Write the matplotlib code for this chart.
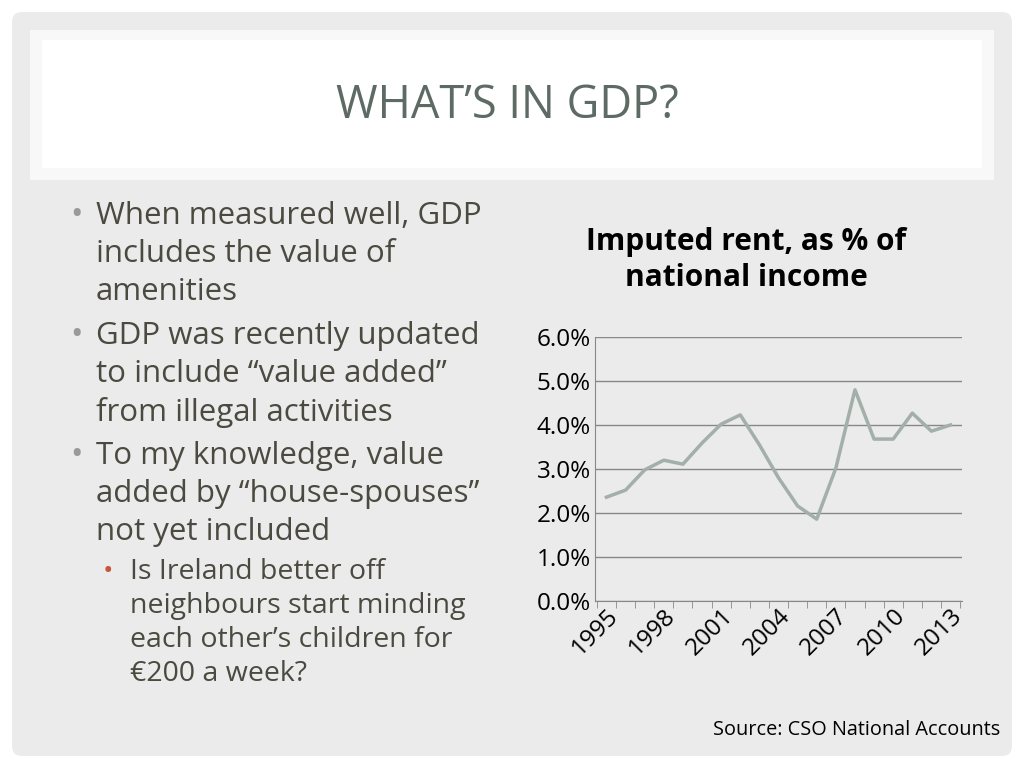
import matplotlib.pyplot as plt
from matplotlib.patches import FancyBboxPatch, Rectangle

plt.rcParams['font.family'] = ['Open Sans', 'DejaVu Sans']

years = list(range(1995, 2014))
rent_pct = [2.36, 2.52, 2.98, 3.20, 3.11, 3.59, 4.02, 4.23, 3.55, 2.80,
            2.16, 1.86, 3.02, 4.80, 3.68, 3.68, 4.27, 3.86, 4.00]
tick_years = [1995, 1998, 2001, 2004, 2007, 2010, 2013]
yticks = [0, 1, 2, 3, 4, 5, 6]

W, H = 1024, 768
fig = plt.figure(figsize=(10.24, 7.68), dpi=100, facecolor='white')

# slide background
bg = fig.add_axes([0, 0, 1, 1])
bg.set_xlim(0, W)
bg.set_ylim(H, 0)
bg.axis('off')
bg.add_patch(FancyBboxPatch((12, 12), W - 24, H - 24, boxstyle='round,pad=0,rounding_size=10',
                            facecolor='#ebebeb', edgecolor='none'))
bg.add_patch(Rectangle((30, 30), 964, 150, facecolor='#f8f8f8', edgecolor='none'))
bg.add_patch(Rectangle((42, 40), 940, 128, facecolor='white', edgecolor='none'))
bg.text(507, 106, 'WHAT\u2019S IN GDP?', ha='center', va='center', fontsize=32.5, color='#5e6b65')

bullets = [
    (216, 'When measured well, GDP'), (254, 'includes the value of'), (292, 'amenities'),
    (336, 'GDP was recently updated'), (374, 'to include \u201cvalue added\u201d'), (412, 'from illegal activities'),
    (456, 'To my knowledge, value'), (494, 'added by \u201chouse-spouses\u201d'), (532, 'not yet included'),
]
for y, t in bullets:
    bg.text(96, y, t, ha='left', va='center', fontsize=22.5, color='#4b4a40')
for y in (216, 336, 456):
    bg.text(70, y, '\u2022', ha='left', va='center', fontsize=24, color='#9a9a9a')
bg.text(103, 572, '\u2022', ha='left', va='center', fontsize=20, color='#c8553d')
for y, t in [(572, 'Is Ireland better off'), (606, 'neighbours start minding'),
             (640, 'each other\u2019s children for'), (674, '\u20ac200 a week?')]:
    bg.text(130, y, t, ha='left', va='center', fontsize=20.5, color='#4b4a40')

bg.text(746, 260, 'Imputed rent, as % of\nnational income', ha='center', va='center',
        fontsize=21.5, fontweight='bold', color='black', linespacing=1.3)
bg.text(1000, 730, 'Source: CSO National Accounts', ha='right', va='center', fontsize=14.3, color='black')

# chart
ax = fig.add_axes([595 / W, 1 - 601 / H, (962 - 595) / W, (601 - 337) / H])
ax.set_facecolor('none')
ax.plot(years, rent_pct, color='#a3afa9', linewidth=2.5)
ax.set_xlim(1994.4, 2013.6)
ax.set_ylim(0, 6)
ax.set_yticks(yticks)
ax.set_yticklabels([f'{v:.1f}%' for v in yticks], fontsize=17.5)
ax.set_xticks(tick_years)
ax.set_xticklabels([str(y) for y in tick_years], rotation=45, fontsize=17.5, ha='right', rotation_mode='anchor')
ax.set_xticks([y - 0.5 for y in years] + [2013.5], minor=True)
ax.tick_params(axis='x', which='major', length=0, pad=2)
ax.tick_params(axis='x', which='minor', length=5, color='#888888')
ax.tick_params(axis='y', length=0, pad=3)
ax.grid(axis='y', color='#888888', linewidth=1)
for s in ['top', 'right']:
    ax.spines[s].set_visible(False)
ax.spines['left'].set_color('#888888')
ax.spines['bottom'].set_color('#888888')
ax.set_axisbelow(True)

fig.savefig('out.png', dpi=100)
